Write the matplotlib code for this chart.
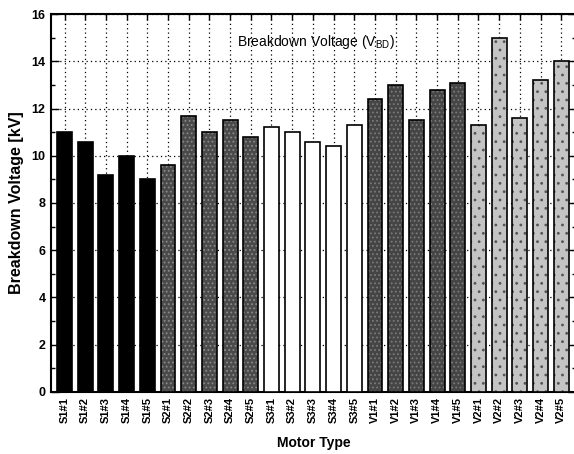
import matplotlib
matplotlib.use("Agg")
import matplotlib.pyplot as plt
from matplotlib.ticker import MultipleLocator

categories = ["S1#1", "S1#2", "S1#3", "S1#4", "S1#5",
              "S2#1", "S2#2", "S2#3", "S2#4", "S2#5",
              "S3#1", "S3#2", "S3#3", "S3#4", "S3#5",
              "V1#1", "V1#2", "V1#3", "V1#4", "V1#5",
              "V2#1", "V2#2", "V2#3", "V2#4", "V2#5"]
voltage_kv = [11.0, 10.6, 9.2, 10.0, 9.0,
              9.6, 11.7, 11.0, 11.5, 10.8,
              11.2, 11.0, 10.6, 10.4, 11.3,
              12.4, 13.0, 11.5, 12.8, 13.1,
              11.3, 15.0, 11.6, 13.2, 14.0]
group_colors = {"S1": "#000000", "S2": "#4a4a4a", "S3": "#ffffff",
                "V1": "#454545", "V2": "#c4c4c4"}
group_hatch = {"S1": None, "S2": "....", "S3": None, "V1": "....", "V2": ".."}
hatch_colors = {"S1": "#000000", "S2": "#8a8a8a", "S3": "#000000",
                "V1": "#7a7a7a", "V2": "#555555"}

plt.rcParams['font.family'] = ['Liberation Sans Narrow', 'Liberation Sans', 'DejaVu Sans']
plt.rcParams['hatch.linewidth'] = 0.8
plt.rcParams['mathtext.default'] = 'regular'

fig = plt.figure(figsize=(5.74, 4.54), dpi=100)
ax = fig.add_axes([0.089, 0.137, 0.914, 0.832])

x = list(range(len(categories)))
for i, (cat, v) in enumerate(zip(categories, voltage_kv)):
    g = cat[:2]
    h = group_hatch[g]
    ax.bar(i, v, width=0.72, color=group_colors[g], edgecolor=hatch_colors[g],
           hatch=h, linewidth=0, zorder=3)
    ax.bar(i, v, width=0.72, facecolor='none', edgecolor='black',
           linewidth=1.2, zorder=4)

ax.set_xlim(-0.65, 24.7)
ax.set_ylim(0, 16)
ax.yaxis.set_major_locator(MultipleLocator(2))
ax.yaxis.set_minor_locator(MultipleLocator(1))
ax.set_xticks(x)
ax.set_xticklabels(categories, rotation=90, fontsize=8, fontweight='bold')
for lab in ax.get_yticklabels():
    lab.set_fontweight('bold')
ax.tick_params(axis='y', which='major', direction='in', length=6, width=1,
               labelsize=9, right=True, pad=4)
ax.tick_params(axis='y', which='minor', direction='in', length=3, width=1, right=True)
ax.tick_params(axis='x', which='major', direction='in', length=4, width=1,
               top=True, pad=4)

ax.grid(True, which='major', linestyle=(0, (1, 2.5)), color='black', linewidth=0.9, zorder=1)
ax.set_axisbelow(True)
for s in ax.spines.values():
    s.set_linewidth(1.5)

ax.set_ylabel("Breakdown Voltage [kV]", fontsize=11.5, fontweight='bold',
              family=['Liberation Sans', 'DejaVu Sans'], labelpad=5)
ax.set_xlabel("Motor Type", fontsize=10, fontweight='bold', labelpad=9)
ax.text(0.354, 0.926, "Breakdown Voltage (V$_{BD}$)", transform=ax.transAxes,
        ha='left', va='center', fontsize=10, zorder=6)

fig.savefig("out.png", dpi=100)
